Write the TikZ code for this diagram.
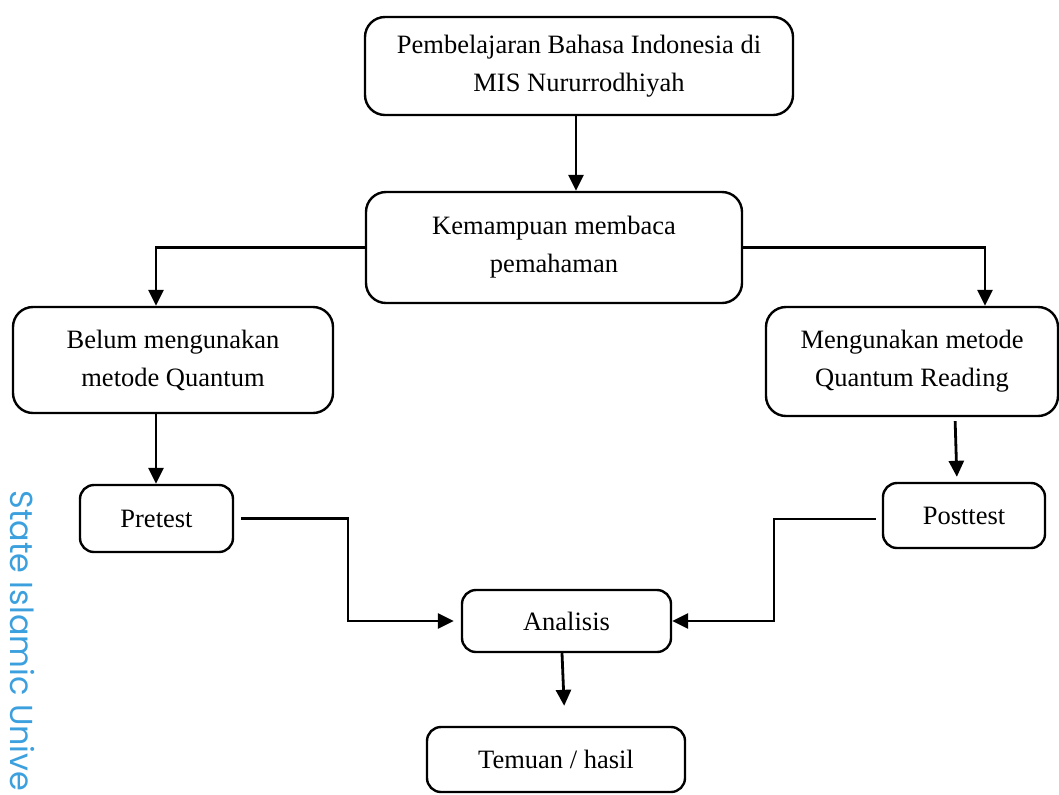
\documentclass[tikz,border=0pt]{standalone}
\usepackage{fontspec}
\setmainfont{Liberation Serif}
\newfontfamily\wmfont{Poppins}
\usetikzlibrary{arrows.meta,calc}
\definecolor{wmblue}{RGB}{60,160,222}
\begin{document}
\begin{tikzpicture}[x=0.5pt,y=-0.5pt,
  box/.style={draw, line width=1.2pt, rounded corners=10pt, align=center, inner sep=0pt,
    font=\fontsize{13.25}{19}\selectfont},
  smallbox/.style={box, rounded corners=7pt},
  arr/.style={line width=1.4pt, -{Triangle[length=8pt,width=7.5pt]}}]
\useasboundingbox (0,0) rectangle (1059,794);
% watermark
\node[rotate=-90, anchor=west, inner sep=0pt, text=wmblue, font=\wmfont\fontsize{15.9}{16}\selectfont] (wm) at (22,490) {State Islamic Unive};
% boxes
\node[box, minimum width=214pt, minimum height=49pt] (b1) at (579,66) {Pembelajaran Bahasa Indonesia di\\MIS Nururrodhiyah};
\node[box, minimum width=188pt, minimum height=55.5pt] (b2) at (554,247.5) {Kemampuan membaca\\pemahaman};
\node[box, minimum width=160pt, minimum height=53pt] (b3) at (173,360) {Belum mengunakan\\metode Quantum};
\node[box, minimum width=146pt, minimum height=54.5pt] (b4) at (912,361.5) {Mengunakan metode\\Quantum Reading};
\node[smallbox, minimum width=76.5pt, minimum height=33.5pt] (pre) at (156.5,518.5) {Pretest};
\node[smallbox, minimum width=81pt, minimum height=32.5pt] (post) at (964,515.5) {Posttest};
\node[smallbox, minimum width=104.5pt, minimum height=31pt] (ana) at (566.5,621) {Analisis};
\node[smallbox, minimum width=129pt, minimum height=32.5pt] (tem) at (556,759.5) {Temuan / hasil};
% helper coordinates
\coordinate (x1) at (576,0);
\coordinate (x3) at (156,0);
\coordinate (x4) at (985,0);
\coordinate (x5a) at (955,0);
\coordinate (x5b) at (957,0);
\coordinate (k1) at (348,0);
\coordinate (k2) at (774,0);
\coordinate (x6a) at (562,0);
\coordinate (x6b) at (565,0);
% connectors
\draw[arr] (b1.south -| x1) -- (b2.north -| x1);
\draw[arr] (b2.west) -| (b3.north -| x3);
\draw[arr] (b2.east) -| (b4.north -| x4);
\draw[arr] (b3.south -| x3) -- (pre.north -| x3);
\draw[arr, shorten <=2pt, shorten >=2.5pt] (b4.south -| x5a) -- (post.north -| x5b);
\draw[arr, shorten <=3.5pt, shorten >=3.5pt] (pre.east) -- (pre.east -| k1) |- (ana.west);
\draw[arr, shorten <=3pt] ([yshift=-1.75pt]post.west) -- ([yshift=-1.75pt]post.west -| k2) |- (ana.east);
\draw[arr, shorten >=10pt] (ana.south -| x6a) -- (tem.north -| x6b);
\end{tikzpicture}
\end{document}
